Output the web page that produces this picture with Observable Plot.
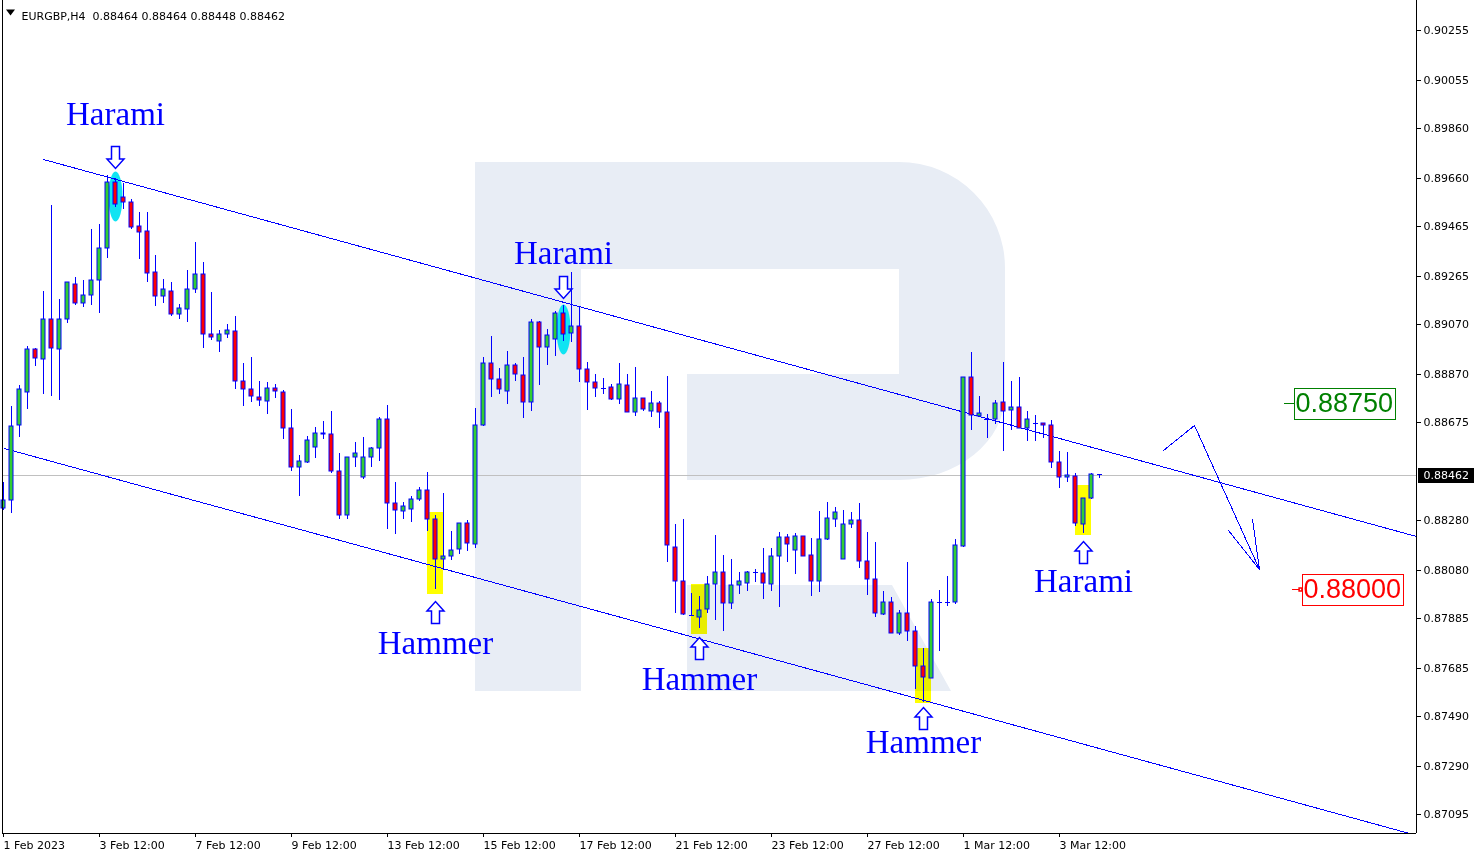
<!DOCTYPE html>
<html><head><meta charset="utf-8">
<script src="https://cdn.jsdelivr.net/npm/d3@7"></script>
<script src="https://cdn.jsdelivr.net/npm/@observablehq/plot@0.6"></script>
<style>html,body{margin:0;padding:0;background:#fff;overflow:hidden}</style>
</head><body><div id="chart"></div>
<script>
const instrument = "EURGBP,H4";
// H4 candles, index 0 = first visible bar
const open = [0.88328,0.88360,0.88663,0.88796,0.88969,0.88929,0.89090,0.88969,0.89090,0.89231,
0.89155,0.89187,0.89247,0.89376,0.89642,0.89582,0.89562,0.89465,0.89445,0.89280,
0.89183,0.89203,0.89110,0.89130,0.89211,0.89272,0.89030,0.89001,0.89030,0.89042,
0.88840,0.88808,0.88776,0.88760,0.88812,0.88796,0.88651,0.88494,0.88514,0.88574,
0.88627,0.88627,0.88477,0.88300,0.88534,0.88453,0.88534,0.88570,0.88687,0.88348,
0.88316,0.88324,0.88364,0.88401,0.88284,0.88123,0.88135,0.88163,0.88268,0.88183,
0.88663,0.88913,0.88848,0.88800,0.88905,0.88864,0.88756,0.89078,0.88977,0.89010,
0.89114,0.89034,0.89062,0.88889,0.88836,0.88812,0.88816,0.88768,0.88824,0.88715,
0.88772,0.88719,0.88752,0.88715,0.88171,0.88034,0.87897,0.87889,0.87921,0.88022,
0.88070,0.87945,0.88018,0.88026,0.88070,0.88066,0.88022,0.88135,0.88211,0.88159,
0.88215,0.88139,0.88034,0.88203,0.88284,0.88123,0.88264,0.88280,0.88115,0.88042,
0.87901,0.87949,0.87824,0.87905,0.87832,0.87691,0.87643,0.87949,0.87949,0.87949,
0.88175,0.88856,0.88699,0.88687,0.88687,0.88756,0.88723,0.88735,0.88651,0.88671,
0.88671,0.88663,0.88514,0.88453,0.88457,0.88264,0.88369,0.88464];
const high = [0.88433,0.88739,0.88824,0.88981,0.88973,0.89203,0.89550,0.89171,0.89239,0.89259,
0.89247,0.89453,0.89473,0.89671,0.89658,0.89638,0.89574,0.89521,0.89521,0.89348,
0.89251,0.89239,0.89151,0.89288,0.89401,0.89320,0.89199,0.89046,0.89070,0.89102,
0.88913,0.88937,0.88840,0.88836,0.88828,0.88804,0.88727,0.88542,0.88619,0.88655,
0.88679,0.88719,0.88550,0.88534,0.88594,0.88615,0.88574,0.88695,0.88743,0.88433,
0.88352,0.88377,0.88413,0.88473,0.88300,0.88389,0.88236,0.88268,0.88280,0.88731,
0.88937,0.89022,0.88893,0.88961,0.88913,0.88937,0.89090,0.89082,0.89050,0.89122,
0.89147,0.89280,0.89143,0.88917,0.88868,0.88852,0.88828,0.88913,0.88868,0.88897,
0.88772,0.88800,0.88760,0.88860,0.88264,0.88284,0.87986,0.87973,0.88054,0.88219,
0.88139,0.88123,0.88070,0.88074,0.88082,0.88167,0.88167,0.88232,0.88224,0.88228,
0.88215,0.88207,0.88316,0.88352,0.88332,0.88320,0.88312,0.88348,0.88232,0.88191,
0.87994,0.87969,0.87917,0.88110,0.87853,0.87764,0.87961,0.87998,0.88054,0.88203,
0.88856,0.88957,0.88780,0.88707,0.88764,0.88917,0.88840,0.88856,0.88719,0.88703,
0.88671,0.88683,0.88558,0.88554,0.88469,0.88369,0.88469,0.88464];
const low = [0.88320,0.88308,0.88614,0.88727,0.88901,0.88788,0.88780,0.88764,0.89074,0.89147,
0.89139,0.89147,0.89114,0.89336,0.89542,0.89534,0.89453,0.89332,0.89239,0.89143,
0.89155,0.89102,0.89090,0.89078,0.89195,0.88973,0.89006,0.88957,0.89014,0.88808,
0.88739,0.88756,0.88739,0.88707,0.88772,0.88606,0.88477,0.88377,0.88510,0.88530,
0.88606,0.88469,0.88284,0.88284,0.88494,0.88445,0.88494,0.88518,0.88244,0.88224,
0.88284,0.88272,0.88356,0.88236,0.88002,0.88078,0.88119,0.88143,0.88155,0.88167,
0.88659,0.88776,0.88788,0.88747,0.88840,0.88691,0.88719,0.88824,0.88905,0.88941,
0.89001,0.88997,0.88836,0.88723,0.88776,0.88788,0.88764,0.88747,0.88715,0.88699,
0.88719,0.88695,0.88651,0.88110,0.87905,0.87897,0.87893,0.87845,0.87905,0.87877,
0.87832,0.87921,0.87982,0.87994,0.88030,0.87961,0.87994,0.87929,0.88110,0.88062,
0.88135,0.87973,0.87990,0.88199,0.88252,0.88123,0.88248,0.88086,0.87978,0.87889,
0.87897,0.87824,0.87816,0.87792,0.87599,0.87546,0.87643,0.87752,0.87933,0.87941,
0.88171,0.88643,0.88695,0.88610,0.88667,0.88558,0.88643,0.88651,0.88598,0.88598,
0.88610,0.88489,0.88409,0.88433,0.88256,0.88228,0.88364,0.88448];
const close = [0.88360,0.88659,0.88808,0.88969,0.88933,0.89090,0.88973,0.89090,0.89239,0.89155,
0.89187,0.89247,0.89376,0.89642,0.89554,0.89562,0.89461,0.89441,0.89275,0.89183,
0.89211,0.89110,0.89135,0.89211,0.89272,0.89030,0.89018,0.89030,0.89046,0.88840,
0.88808,0.88780,0.88764,0.88812,0.88800,0.88651,0.88494,0.88518,0.88602,0.88631,
0.88631,0.88477,0.88300,0.88534,0.88550,0.88534,0.88570,0.88687,0.88348,0.88320,
0.88336,0.88364,0.88401,0.88284,0.88123,0.88135,0.88159,0.88268,0.88187,0.88663,
0.88913,0.88848,0.88808,0.88905,0.88868,0.88756,0.89078,0.88977,0.89026,0.89114,
0.89030,0.89062,0.88889,0.88836,0.88812,0.88813,0.88768,0.88828,0.88715,0.88772,
0.88727,0.88752,0.88715,0.88179,0.88034,0.87901,0.87897,0.87917,0.88022,0.88070,
0.87945,0.88018,0.88034,0.88070,0.88071,0.88026,0.88135,0.88211,0.88183,0.88215,
0.88135,0.88034,0.88203,0.88288,0.88312,0.88264,0.88280,0.88115,0.88042,0.87905,
0.87949,0.87824,0.87905,0.87832,0.87691,0.87647,0.87949,0.87950,0.87950,0.88179,
0.88856,0.88703,0.88711,0.88688,0.88752,0.88719,0.88735,0.88651,0.88687,0.88672,
0.88663,0.88514,0.88453,0.88461,0.88268,0.88369,0.88465,0.88462];

const tickBars = [0,12,24,36,48,60,72,84,96,108,120,132];
const tickLabels = ["1 Feb 2023","3 Feb 12:00","7 Feb 12:00","9 Feb 12:00","13 Feb 12:00","15 Feb 12:00","17 Feb 12:00","21 Feb 12:00","23 Feb 12:00","27 Feb 12:00","1 Mar 12:00","3 Mar 12:00"];
const priceTicks = [0.90255,0.90055,0.89860,0.89660,0.89465,0.89265,0.89070,0.88870,0.88675,0.88280,0.88080,0.87885,0.87685,0.87490,0.87290,0.87095];

const patternBars = [14,54,70,87,115,135];
const patternNames = ["Harami","Hammer","Harami","Hammer","Hammer","Harami"];
const patternDirs = ["down","up","down","up","up","up"];
const arrowPrices = [0.89743,0.87909,0.89219,0.87764,0.87480,0.88151];
const labelPrices = [0.89917,0.87785,0.89355,0.87637,0.87386,0.88035];

const hammerBoxBars = [54,87,115,135];
const hammerBoxTop = [0.88312,0.88022,0.87764,0.88421];
const hammerBoxBottom = [0.87982,0.87820,0.87542,0.88219];
const haramiMarkBars = [14,70];
const haramiMarkPrices = [0.89586,0.89050];

const channelUpperBars = [5.04,176.6];
const channelUpperPrices = [0.89734,0.88217];
const channelLowerBars = [0.125,175.75];
const channelLowerPrices = [0.88570,0.87020];
const forecastBars = [145.04,148.91,157.0];
const forecastPrices = [0.88560,0.88663,0.88083];
const forecastHeadBars = [153.16,157.0,156.09];
const forecastHeadPrices = [0.88240,0.88083,0.88284];

const levelPrices = [0.88750,0.88000];
const levelBars = [161.5,162.5];

const xDomain = [-0.125, 176.625];
const yDomain = [0.87018, 0.90376];

// ---------- build ----------
const BLUE = "#0000ff";
const candles = open.map((o,i)=>({i,o,h:high[i],l:low[i],c:close[i]}));
const isDoji = d => Math.abs(d.c-d.o) < 0.000025;
const upC = candles.filter(d => !isDoji(d) && d.c > d.o);
const dnC = candles.filter(d => !isDoji(d) && d.c < d.o);
const dojiC = candles.filter(isDoji);
const last = candles[candles.length-1];

const patterns = patternBars.map((b,i)=>({b,name:patternNames[i],dir:patternDirs[i],ap:arrowPrices[i],lp:labelPrices[i]}));
const yellow = hammerBoxBars.map((b,i)=>({b,t:hammerBoxTop[i],bt:hammerBoxBottom[i]}));
const cyan = haramiMarkBars.map((b,i)=>({b,p:haramiMarkPrices[i]}));
const pts = (bs,ps)=>bs.map((b,i)=>({b,p:ps[i]}));
const levels = levelPrices.map((p,i)=>({p,b:levelBars[i]}));

const arrowSym = f => ({draw(ctx,size){const s=Math.sqrt(size/Math.PI)/11;
  const P=[[-4,-11],[4,-11],[4,1.5],[8.5,1.5],[0,11],[-8.5,1.5],[-4,1.5]];
  ctx.moveTo(P[0][0]*s,P[0][1]*s*f); for(let k=1;k<P.length;k++) ctx.lineTo(P[k][0]*s,P[k][1]*s*f); ctx.closePath();}});
const ellipseSym = {draw(ctx,size){const r=Math.sqrt(size/Math.PI),rx=r*0.28,ry=r,k=0.5523;
  ctx.moveTo(rx,0);ctx.bezierCurveTo(rx,ry*k,rx*k,ry,0,ry);ctx.bezierCurveTo(-rx*k,ry,-rx,ry*k,-rx,0);
  ctx.bezierCurveTo(-rx,-ry*k,-rx*k,-ry,0,-ry);ctx.bezierCurveTo(rx*k,-ry,rx,-ry*k,rx,0);ctx.closePath();}};
const triSym = {draw(ctx){ctx.moveTo(-4.5,-3);ctx.lineTo(4.5,-3);ctx.lineTo(0,3);ctx.closePath();}};

const NS = "http://www.w3.org/2000/svg";
const watermark = () => {
  const g = document.createElementNS(NS,"g");
  const p = document.createElementNS(NS,"path");
  p.setAttribute("d","M475,162H899A106,106 0 0 1 1005,268V394A106,86 0 0 1 899,480H687V374H899V269H581V691H475Z M687,585H892L951,691H687Z");
  p.setAttribute("fill","#e8edf5");
  g.appendChild(p); return g;
};

const labelMap = new Map(tickBars.map((b,i)=>[b,tickLabels[i]]));
const header = instrument + "\u00a0\u00a0" + [last.o,last.h,last.l,last.c].map(v=>v.toFixed(5)).join(" ");

const chart = Plot.plot({
  width:1480, height:857, marginLeft:2, marginRight:64, marginTop:0, marginBottom:24,
  x:{domain:xDomain, round:true},
  y:{domain:yDomain, round:true},
  style:{fontFamily:"DejaVu Sans", fontSize:"11px", color:"black", background:"white", overflow:"hidden"},
  marks:[
    watermark,
    Plot.ruleY([last.c],{stroke:"#c0c0c0"}),
    Plot.rect(yellow,{x1:d=>d.b-1,x2:d=>d.b+1,y1:"t",y2:"bt",fill:"#ffff00",mixBlendMode:"multiply"}),
    Plot.dot(cyan,{x:"b",y:"p",symbol:ellipseSym,r:25,fill:"#10e4f2",stroke:"none"}),
    Plot.line(pts(channelUpperBars,channelUpperPrices),{x:"b",y:"p",stroke:BLUE,strokeWidth:1,shapeRendering:"crispEdges"}),
    Plot.line(pts(channelLowerBars,channelLowerPrices),{x:"b",y:"p",stroke:BLUE,strokeWidth:1,shapeRendering:"crispEdges"}),
    Plot.line(pts(forecastBars,forecastPrices),{x:"b",y:"p",stroke:BLUE,strokeWidth:1,shapeRendering:"crispEdges"}),
    Plot.line(pts(forecastHeadBars,forecastHeadPrices),{x:"b",y:"p",stroke:BLUE,strokeWidth:1,shapeRendering:"crispEdges"}),
    Plot.ruleX(candles,{x:"i",y1:"l",y2:"h",stroke:BLUE}),
    Plot.rect(upC,{x1:d=>d.i-0.25,x2:d=>d.i+0.25,y1:"o",y2:"c",fill:"#32cd32",stroke:BLUE}),
    Plot.rect(dnC,{x1:d=>d.i-0.25,x2:d=>d.i+0.25,y1:"o",y2:"c",fill:"#ff0000",stroke:BLUE}),
    Plot.ruleY(dojiC,{y:"o",x1:d=>d.i-0.3125,x2:d=>d.i+0.3125,stroke:BLUE}),
    Plot.dot(patterns.filter(d=>d.dir==="down"),{x:"b",y:"ap",symbol:arrowSym(1),r:11,fill:"white",stroke:BLUE,strokeWidth:1.5}),
    Plot.dot(patterns.filter(d=>d.dir==="up"),{x:"b",y:"ap",symbol:arrowSym(-1),r:11,fill:"white",stroke:BLUE,strokeWidth:1.5}),
    Plot.text(patterns,{x:"b",y:"lp",text:"name",fontFamily:"Liberation Serif",fontSize:33,fill:BLUE,textAnchor:"middle"}),
    Plot.axisY(priceTicks,{anchor:"right",tickSize:4,tickPadding:3,tickFormat:d=>d.toFixed(5),label:null}),
    Plot.axisX(tickBars,{anchor:"bottom",tickSize:4,tickPadding:4,tickFormat:d=>labelMap.get(d),textAnchor:"start",label:null}),
    Plot.ruleX([xDomain[0]],{stroke:"black"}),
    Plot.ruleX([xDomain[1]],{stroke:"black"}),
    Plot.ruleY([yDomain[0]],{stroke:"black"}),
    Plot.ruleY([levels[0]],{y:"p",x1:d=>d.b-1.35,x2:d=>d.b-0.15,stroke:"#008000"}),
    Plot.ruleY([levels[1]],{y:"p",x1:d=>d.b-1.35,x2:d=>d.b-0.15,stroke:"#ff0000"}),
    Plot.dot([levels[1]],{x:d=>d.b-0.4,y:"p",symbol:"square",r:1.6,fill:"white",stroke:"#ff0000"}),
    Plot.text([levels[0]],{x:"b",y:"p",text:d=>d.p.toFixed(5),textAnchor:"start",fontFamily:"Liberation Sans",fontSize:27,fill:"#008000"}),
    Plot.text([levels[1]],{x:"b",y:"p",text:d=>d.p.toFixed(5),textAnchor:"start",fontFamily:"Liberation Sans",fontSize:27,fill:"#ff0000"}),
    Plot.text([last.c],{y:d=>d,frameAnchor:"right",dx:7,text:d=>d.toFixed(5),textAnchor:"start",fill:"white"}),
    Plot.dot([0],{frameAnchor:"top-left",dx:8,dy:12,symbol:triSym,r:3,fill:"black",stroke:"none"}),
    Plot.text([header],{frameAnchor:"top-left",dx:19,dy:12,text:d=>d,textAnchor:"start",fill:"black"})
  ]
});
document.getElementById("chart").appendChild(chart);

// label boxes drawn around their text
const boxSpecs = {};
boxSpecs[levelPrices[0].toFixed(5)] = {fill:"white",stroke:"#008000",pl:1.5,pr:1.5,pt:0.5,pb:0.5};
boxSpecs[levelPrices[1].toFixed(5)] = {fill:"white",stroke:"#ff0000",pl:1.5,pr:1.5,pt:0.5,pb:0.5};
boxSpecs[last.c.toFixed(5)] = {fill:"black",stroke:"none",pl:5.5,pr:4.5,pt:0.6,pb:0.6};
const sb = chart.getBoundingClientRect();
chart.querySelectorAll("text").forEach(t=>{
  const spec = boxSpecs[t.textContent]; if(!spec) return;
  const tb = t.getBoundingClientRect();
  const r = document.createElementNS(NS,"rect");
  const off = spec.stroke==="none" ? 0 : 0.5;
  const x0 = Math.round(tb.left-sb.left-spec.pl)+off, x1 = Math.round(tb.right-sb.left+spec.pr)+off;
  const y0 = Math.round(tb.top-sb.top-spec.pt)+off, y1 = Math.round(tb.bottom-sb.top+spec.pb)+off;
  r.setAttribute("x",x0); r.setAttribute("y",y0); r.setAttribute("width",x1-x0); r.setAttribute("height",y1-y0);
  r.setAttribute("fill",spec.fill); r.setAttribute("stroke",spec.stroke);
  const g = t.parentNode; g.parentNode.insertBefore(r,g);
});
</script></body></html>
